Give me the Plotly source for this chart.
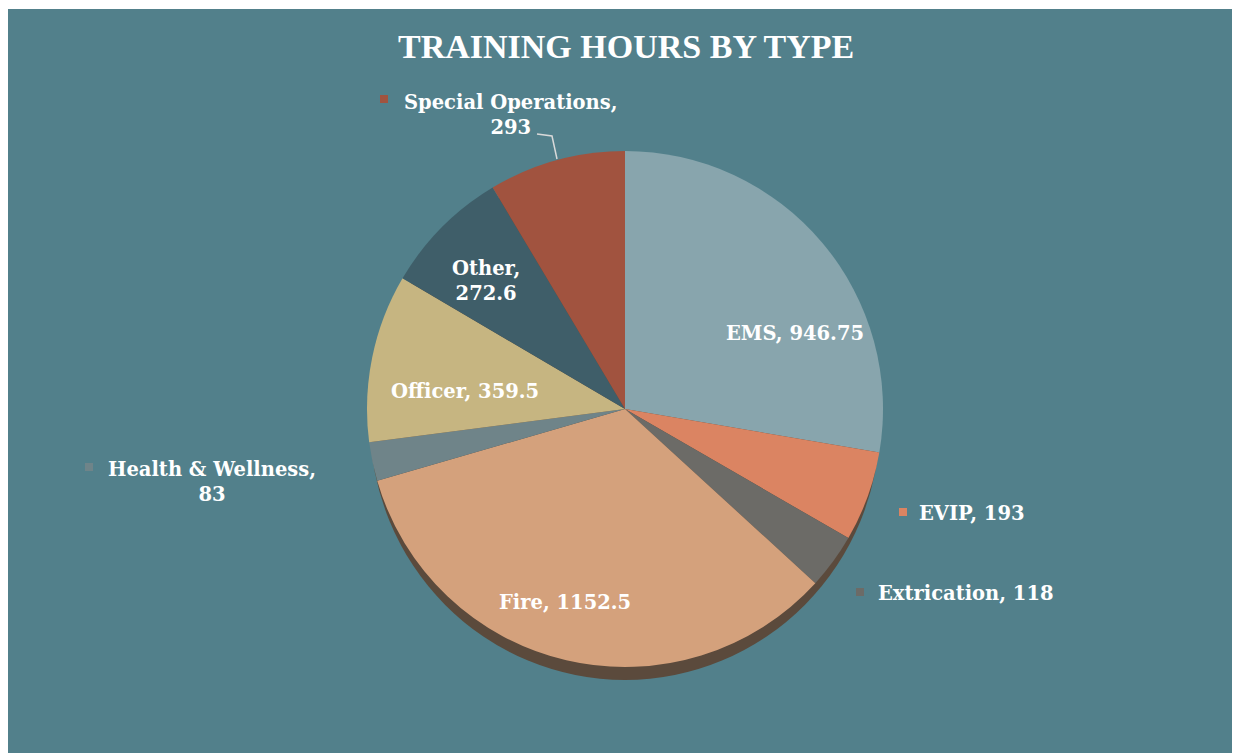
import plotly.graph_objects as go

labels = ["EMS", "EVIP", "Extrication", "Fire", "Health & Wellness", "Officer", "Other", "Special Operations"]
values = [946.75, 193, 118, 1152.5, 83, 359.5, 272.6, 293]
colors = ["#88a5ad", "#db8462", "#6c6b67", "#d4a17c", "#6f8489", "#c6b581", "#3f5e69", "#a1533f"]
title_text = "TRAINING HOURS BY TYPE"

W, H = 1235, 753
BG = "#52808b"
TITLE_FONT = "Liberation Serif"
LABEL_FONT = "DejaVu Serif"

cx, cy, r = 625, 409, 258  # pixel centre/radius of pie


def px(x):
    return x / W


def py(y):
    return 1 - y / H


fig = go.Figure()
fig.add_trace(go.Pie(
    labels=labels, values=values,
    marker=dict(colors=colors, line=dict(width=0)),
    sort=False, direction="clockwise", rotation=0,
    textinfo="none", hoverinfo="label+value",
    domain=dict(x=[px(cx - r), px(cx + r)], y=[py(cy + r), py(cy - r)]),
    showlegend=False,
))

shapes = [
    dict(type="rect", xref="paper", yref="paper", x0=px(8), x1=px(1232), y0=0, y1=py(9),
         fillcolor=BG, line=dict(width=0), layer="below"),
    dict(type="circle", xref="paper", yref="paper", x0=px(cx - r + 3), x1=px(cx + r - 3),
         y0=py(cy + r + 13), y1=py(cy - r + 13), fillcolor="#5b4a3c", line=dict(width=0), layer="below"),
    dict(type="path", xref="paper", yref="paper",
         path=f"M {px(537)} {py(134)} L {px(552)} {py(136)} L {px(557)} {py(159)}",
         line=dict(color="#d9d9d9", width=1.5), layer="above"),
]

# label placement: (text centre x, text centre y, two lines, marker centre or None)
label_pos = {
    "EMS": (795, 333, False, None),
    "EVIP": (972, 513, False, (903, 512)),
    "Extrication": (966, 593, False, (860, 592)),
    "Fire": (565, 602, False, None),
    "Health & Wellness": (212, 482, True, (89, 467)),
    "Officer": (465, 391, False, None),
    "Other": (486, 281, True, None),
    "Special Operations": (511, 115, True, (384, 99)),
}

annotations = [dict(text=f"<b>{title_text}</b>", x=px(626), y=py(47), xref="paper", yref="paper",
                    xanchor="center", yanchor="middle",
                    showarrow=False, font=dict(family=TITLE_FONT, size=34, color="white"))]
for lab, val, col in zip(labels, values, colors):
    x, y, two, mk = label_pos[lab]
    sep = "<br>" if two else " "
    txt = f"<b>{lab},{sep}{val:g}</b>"
    annotations.append(dict(text=txt, x=px(x), y=py(y), xref="paper", yref="paper", showarrow=False,
                            xanchor="center", yanchor="middle",
                            font=dict(family=LABEL_FONT, size=19.5, color="white"), align="center"))
    if mk:
        mx, my = mk
        shapes.append(dict(type="rect", xref="paper", yref="paper",
                           x0=px(mx - 4), x1=px(mx + 4), y0=py(my + 4), y1=py(my - 4),
                           fillcolor=col, line=dict(width=0), layer="above"))

fig.update_layout(
    width=W, height=H, margin=dict(l=0, r=0, t=0, b=0),
    paper_bgcolor="white", plot_bgcolor="white",
    shapes=shapes, annotations=annotations,
)
fig.write_html("out.html", config={"displayModeBar": False},
               post_script="document.body.style.margin='0';")
